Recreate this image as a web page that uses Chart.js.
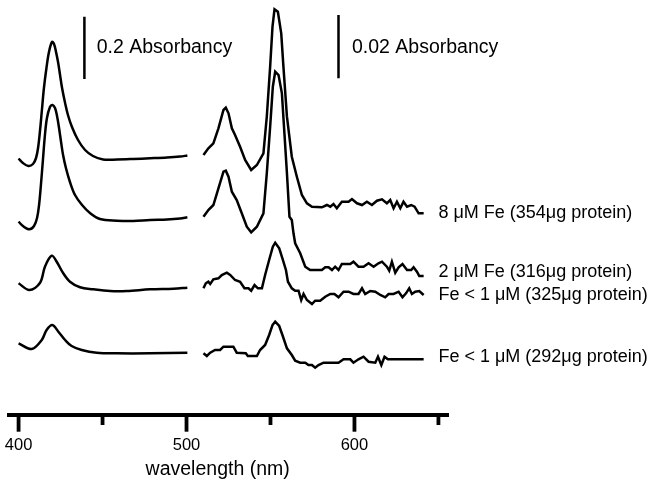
<!DOCTYPE html>
<html lang="en">
<head>
    <meta charset="UTF-8">
    <title>Absorbance spectra vs. Fe</title>
    <script src="https://cdn.jsdelivr.net/npm/chart.js@4.4.1/dist/chart.umd.min.js"></script>
    <style>
        html, body { margin: 0; padding: 0; background: #fff; }
        #wrap { width: 649px; height: 485px; }
    </style>
</head>
<body>
    <div id="wrap"><canvas id="chart"></canvas></div>

    <script>
        // wavelength (nm) vs. stacked, offset signal (arbitrary display units)
        // Soret region 400-500 nm (scale bar 0.2 A), visible region 510-640 nm (scale bar 0.02 A)
        const fe8Soret = [[400,259.5],[402.6,255],[405.8,252],[408.6,254],[410.4,260],[411.6,270],[412.8,288],[413.9,308],[415.1,330],[416.6,350],[418.1,366],[419.9,376],[421.1,374],[422.3,366],[423.5,356],[424.7,343],[425.9,330],[427.7,315],[429.4,303],[431.8,291],[435.4,278],[439.6,268],[444.3,262],[450.3,258.5],[458.6,258.5],[468.2,259],[478.3,259.7],[488.4,260.5],[496.2,261.5],[500.5,262.5]];
        const fe8Visible = [[510.1,263],[513,269.7],[516,274.7],[519,289.7],[522,308],[523.4,310.3],[525,304.7],[527,289.7],[528.9,283],[531.9,271.3],[534.9,258],[538.5,248],[541.9,253],[545.8,264.7],[547.8,301.3],[549.8,351.3],[551.2,391.3],[552.4,408.7],[554.4,406.3],[556.4,384.7],[557.7,351.3],[559.8,301.3],[562.7,261.3],[565.7,241.3],[568.7,223],[571.7,214.7],[574.7,211.3],[580.6,210.7],[583.6,213],[585.6,211.3],[587.5,214],[589.5,209.7],[592.5,216.3],[596.5,216.3],[598.5,219],[601.5,214.7],[604.5,213],[607.4,216.3],[610.4,213],[613.4,217.3],[616.4,218.7],[619.3,214.7],[621.3,218],[623.3,209.7],[625.3,216.3],[627.3,209.7],[629.2,216.3],[631.3,211.3],[633.8,213],[635.8,211.3],[638.2,204.7],[641.2,204.7]];

        const fe2Soret = [[400,196.3],[402.6,192],[406.4,188.7],[409.2,192],[411,200],[412.2,213],[413.3,233],[414.5,258],[415.7,283],[416.9,300],[418.7,311],[420.2,313],[421.7,310],[422.9,302],[424.1,290],[425.3,276],[426.5,263],[428.2,250],[430.6,236],[433.6,223],[437.8,213],[442.5,205],[448.5,199],[458.6,197.3],[468.2,197],[478.3,198],[488.4,198.5],[496.2,199.5],[500.5,200.7]];
        const fe2Visible = [[510.1,201.3],[513,208],[516,213],[519,229.7],[522,246.3],[523.4,247.3],[525,241.3],[527,226.3],[529.9,218],[532.9,204.7],[535.9,191.3],[538.5,185.7],[541.9,191.3],[545.8,204.7],[547.8,244.7],[549.8,291.3],[551.4,331.3],[552.8,346.3],[554.8,343],[556.8,324.7],[558.3,284.7],[559.8,244.7],[561.3,201.3],[562.7,198],[563.7,184.7],[564.7,174.7],[567.7,164.7],[570.7,151.3],[573.6,148],[580.6,148],[582.6,150.7],[584.6,150.7],[586.6,148],[588.5,151.3],[590.5,148],[592.5,154],[597.5,154],[599.4,156.3],[602.4,151.3],[605.4,151.3],[608.4,154.7],[611.4,151.3],[614.3,154.7],[616.4,156.3],[619.3,151.3],[620.7,147.3],[622.3,156.3],[624.3,145.3],[626.3,150.7],[628.6,154],[631.3,148],[633.8,148],[635.2,150.7],[637.2,146.3],[638.6,142],[641.2,142]];

        const feLow325Soret = [[400,134.7],[406.4,128],[412.8,135.3],[415.7,151.3],[419.7,162.3],[422.7,156.3],[426.6,144.7],[430.6,136.3],[436.6,130.7],[444.5,128.7],[454.5,127],[464.4,127],[478.3,128.7],[492.2,129.3],[500.5,130.3]];
        const feLow325Visible = [[510.1,129.7],[511.5,134.7],[513,136.3],[514.1,134],[516,138.7],[519,139.7],[521,143],[524,145.3],[526,143],[528.9,138],[531.9,136.3],[534.5,129.7],[536.9,129.7],[538.5,127.3],[540.5,133],[542.5,129.7],[544.9,129.7],[546.8,143],[549.2,158],[551.4,171.3],[552.8,175.3],[555.2,169.7],[557.1,159.7],[559.2,148],[560.4,136.3],[562.7,129.7],[564.7,127.3],[566.7,127.3],[568.3,118],[569.7,124],[571.7,118],[574.7,114],[576.6,117.3],[579.6,117.3],[582.6,121.3],[585.6,124],[588.1,124],[590.5,120.7],[593.5,126.3],[596.5,126.3],[599.4,124],[602.4,124],[604.5,129.7],[606.4,124],[609.4,127],[612.4,126.3],[615.4,123],[618.3,120.7],[620.3,124],[623.3,124],[626.3,126.3],[628.6,120.7],[630.7,124.7],[632.6,129.7],[634.2,124],[636.2,126.3],[638.6,127],[641.2,123]];

        const feLow292Soret = [[400,74.7],[407.8,69],[413.8,78],[416.7,88],[420.1,93],[423.7,86.3],[427.7,78],[431.6,72],[437.6,68],[446.5,65.3],[458.5,64.7],[478.3,64.7],[500.5,65.3]];
        const feLow292Visible = [[510.1,64.7],[512.1,62],[514.1,65.3],[517,68],[520,68],[522,71.3],[527.9,71.3],[529.9,65.3],[535.3,64.7],[536.5,62],[541.9,62],[543.8,68],[546.8,73],[549.2,83],[551.2,93],[552.8,96.3],[555.2,92],[557.1,83],[559.8,69.7],[562.7,63],[564.7,57.3],[567.7,55.3],[570.7,55.3],[572.6,53],[574.7,53],[576.6,50.3],[578.6,53],[581.6,55.3],[590.5,55.3],[593.5,58.7],[597.5,58.7],[599.4,55.3],[602.4,58.7],[605.4,61.3],[608.4,56.3],[612.4,55.3],[614,61.3],[616,53],[617.9,61.3],[619.9,58.7],[641.2,58.7]];

        // scale bars
        const barSoret = [[439.2,401.3],[439.2,339]];
        const barVisible = [[590.5,403],[590.5,339.7]];

        const traceLabels = ['8 μM Fe (354μg protein)', '2 μM Fe (316μg protein)', 'Fe < 1 μM (325μg protein)', 'Fe < 1 μM (292μg protein)'];
        const traceLabelLevel = [205, 146, 123, 61];
        const barLabels = ['0.2 Absorbancy', '0.02 Absorbancy'];
        const tickValues = [400, 450, 500, 550, 600, 650];
        const tickLabels = [400, 500, 600];

        const FONT = '"Liberation Sans", Arial, sans-serif';

        function line(data, smooth) {
            return {
                data: data.map(p => ({ x: p[0], y: p[1] })),
                borderColor: '#000',
                borderWidth: 2.5,
                pointRadius: 0,
                tension: smooth ? 0.35 : 0,
                fill: false,
                clip: false
            };
        }

        const annotations = {
            id: 'annotations',
            afterDraw(chart) {
                const ctx = chart.ctx;
                const xs = chart.scales.x, ys = chart.scales.y;
                const axisY = chart.chartArea.bottom;
                ctx.save();
                // major / minor ticks
                ctx.strokeStyle = '#000';
                ctx.lineWidth = 3.8;
                tickValues.forEach(v => {
                    const px = xs.getPixelForValue(v);
                    const len = v % 100 === 0 ? 16.7 : 10;
                    ctx.beginPath();
                    ctx.moveTo(px, axisY);
                    ctx.lineTo(px, axisY + len);
                    ctx.stroke();
                });
                ctx.fillStyle = '#000';
                ctx.textBaseline = 'middle';
                ctx.textAlign = 'left';
                ctx.font = '19.5px ' + FONT;
                ctx.fillText(barLabels[0], xs.getPixelForValue(446.5), ys.getPixelForValue(370));
                ctx.fillText(barLabels[1], xs.getPixelForValue(598.5), ys.getPixelForValue(370));
                ctx.font = '18px ' + FONT;
                traceLabels.forEach((t, i) => {
                    ctx.fillText(t, xs.getPixelForValue(650), ys.getPixelForValue(traceLabelLevel[i]));
                });
                ctx.restore();
            }
        };

        new Chart(document.getElementById('chart'), {
            type: 'line',
            data: {
                datasets: [
                    line(fe8Soret, true), line(fe8Visible, false),
                    line(fe2Soret, true), line(fe2Visible, false),
                    line(feLow325Soret, true), line(feLow325Visible, false),
                    line(feLow292Soret, true), line(feLow292Visible, false),
                    line(barSoret, false), line(barVisible, false)
                ]
            },
            options: {
                responsive: true,
                maintainAspectRatio: false,
                animation: false,
                layout: { padding: { left: 9, right: 201, top: 0, bottom: 0 } },
                plugins: {
                    legend: { display: false },
                    tooltip: { enabled: false }
                },
                scales: {
                    x: {
                        type: 'linear',
                        min: 394.3,
                        max: 655.7,
                        grid: { display: false, drawTicks: false },
                        border: { display: true, color: '#000', width: 4 },
                        afterBuildTicks: axis => { axis.ticks = tickValues.map(v => ({ value: v })); },
                        afterFit: axis => {
                            axis.paddingLeft = 0;
                            axis.paddingRight = 0;
                            axis.height = 70;
                        },
                        ticks: {
                            padding: 21,
                            color: '#000',
                            font: { family: FONT, size: 16.5 },
                            maxRotation: 0,
                            autoSkip: false,
                            callback: v => tickLabels.includes(v) ? String(v) : ''
                        },
                        title: {
                            display: true,
                            text: 'wavelength (nm)\u00a0\u00a0\u00a0\u00a0',
                            color: '#000',
                            font: { family: FONT, size: 19.5 },
                            padding: { top: 1.7, bottom: 3.3 }
                        }
                    },
                    y: {
                        display: false,
                        min: 3,
                        max: 418
                    }
                }
            },
            plugins: [annotations]
        });
    </script>
</body>
</html>
